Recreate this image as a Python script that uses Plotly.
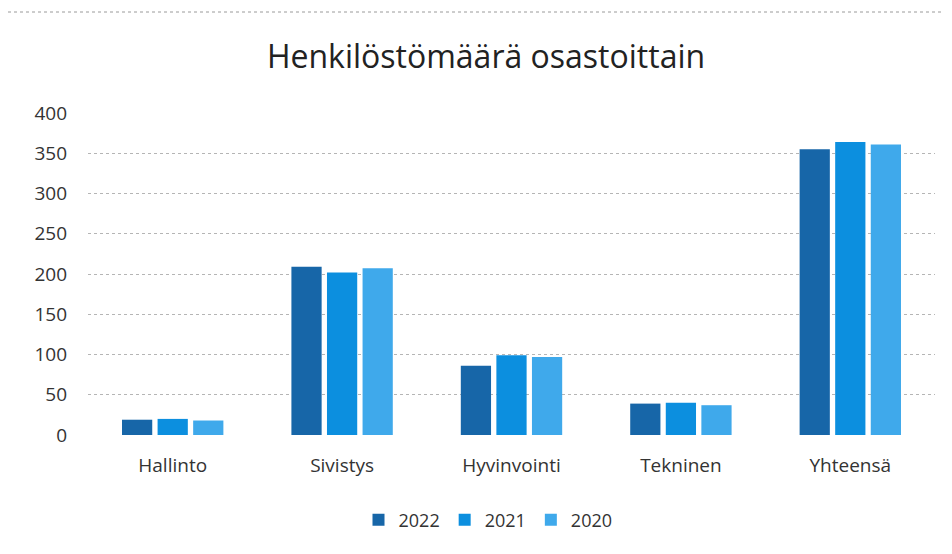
import plotly.graph_objects as go

categories = ["Hallinto", "Sivistys", "Hyvinvointi", "Tekninen", "Yhteensä"]
years = ["2022", "2021", "2020"]
values_2022 = [19, 209, 86, 39, 355]
values_2021 = [20, 202, 99, 40, 364]
values_2020 = [18, 207, 97, 37, 361]
colors = ["#1766a8", "#0c8fdf", "#3fa9eb"]
y_ticks = [0, 50, 100, 150, 200, 250, 300, 350, 400]

series = [values_2022, values_2021, values_2020]

fig = go.Figure()
for name, vals, col in zip(years, series, colors):
    fig.add_trace(go.Bar(x=categories, y=vals, name=name, marker=dict(color=col, line=dict(width=0))))

font_family = "'Open Sans', Lato, sans-serif"
fig.update_layout(
    width=952, height=554,
    margin=dict(l=80, r=25, t=105, b=127, autoexpand=False),
    paper_bgcolor="white", plot_bgcolor="white",
    barmode="group", bargap=0.37, bargroupgap=0.15,
    title=dict(text="Henkilöstömäärä osastoittain", x=(486 - 8) / 952, xanchor="center",
               y=1 - 49/554, yref="container", yanchor="middle",
               font=dict(family=font_family, size=32, color="#222222")),
    font=dict(family=font_family, color="#333333"),
    xaxis=dict(showgrid=False, showline=False, ticks="", ticklabelstandoff=17,
               tickfont=dict(size=19, color="#333333")),
    yaxis=dict(range=[0, 400], tickvals=y_ticks, showgrid=True, gridcolor="#b5b5b5",
               griddash="dot", gridwidth=1, zeroline=False, showline=False, ticks="",
               tickfont=dict(size=19, color="#333333"), ticklabelstandoff=20),
    legend=dict(orientation="h", x=(480 - 80) / 847, xanchor="center", y=(427 - 512) / 322, yanchor="middle",
                font=dict(size=18, color="#333333"), itemwidth=30, traceorder="normal"),
    shapes=[dict(type="line", xref="paper", yref="paper", x0=-80/847, x1=1 + 25/847,
                 y0=1 + (105 - 4) / 322, y1=1 + (105 - 4) / 322,
                 line=dict(color="#9a9a9a", width=1, dash="dot"))],
)
fig.write_html("out.html")
